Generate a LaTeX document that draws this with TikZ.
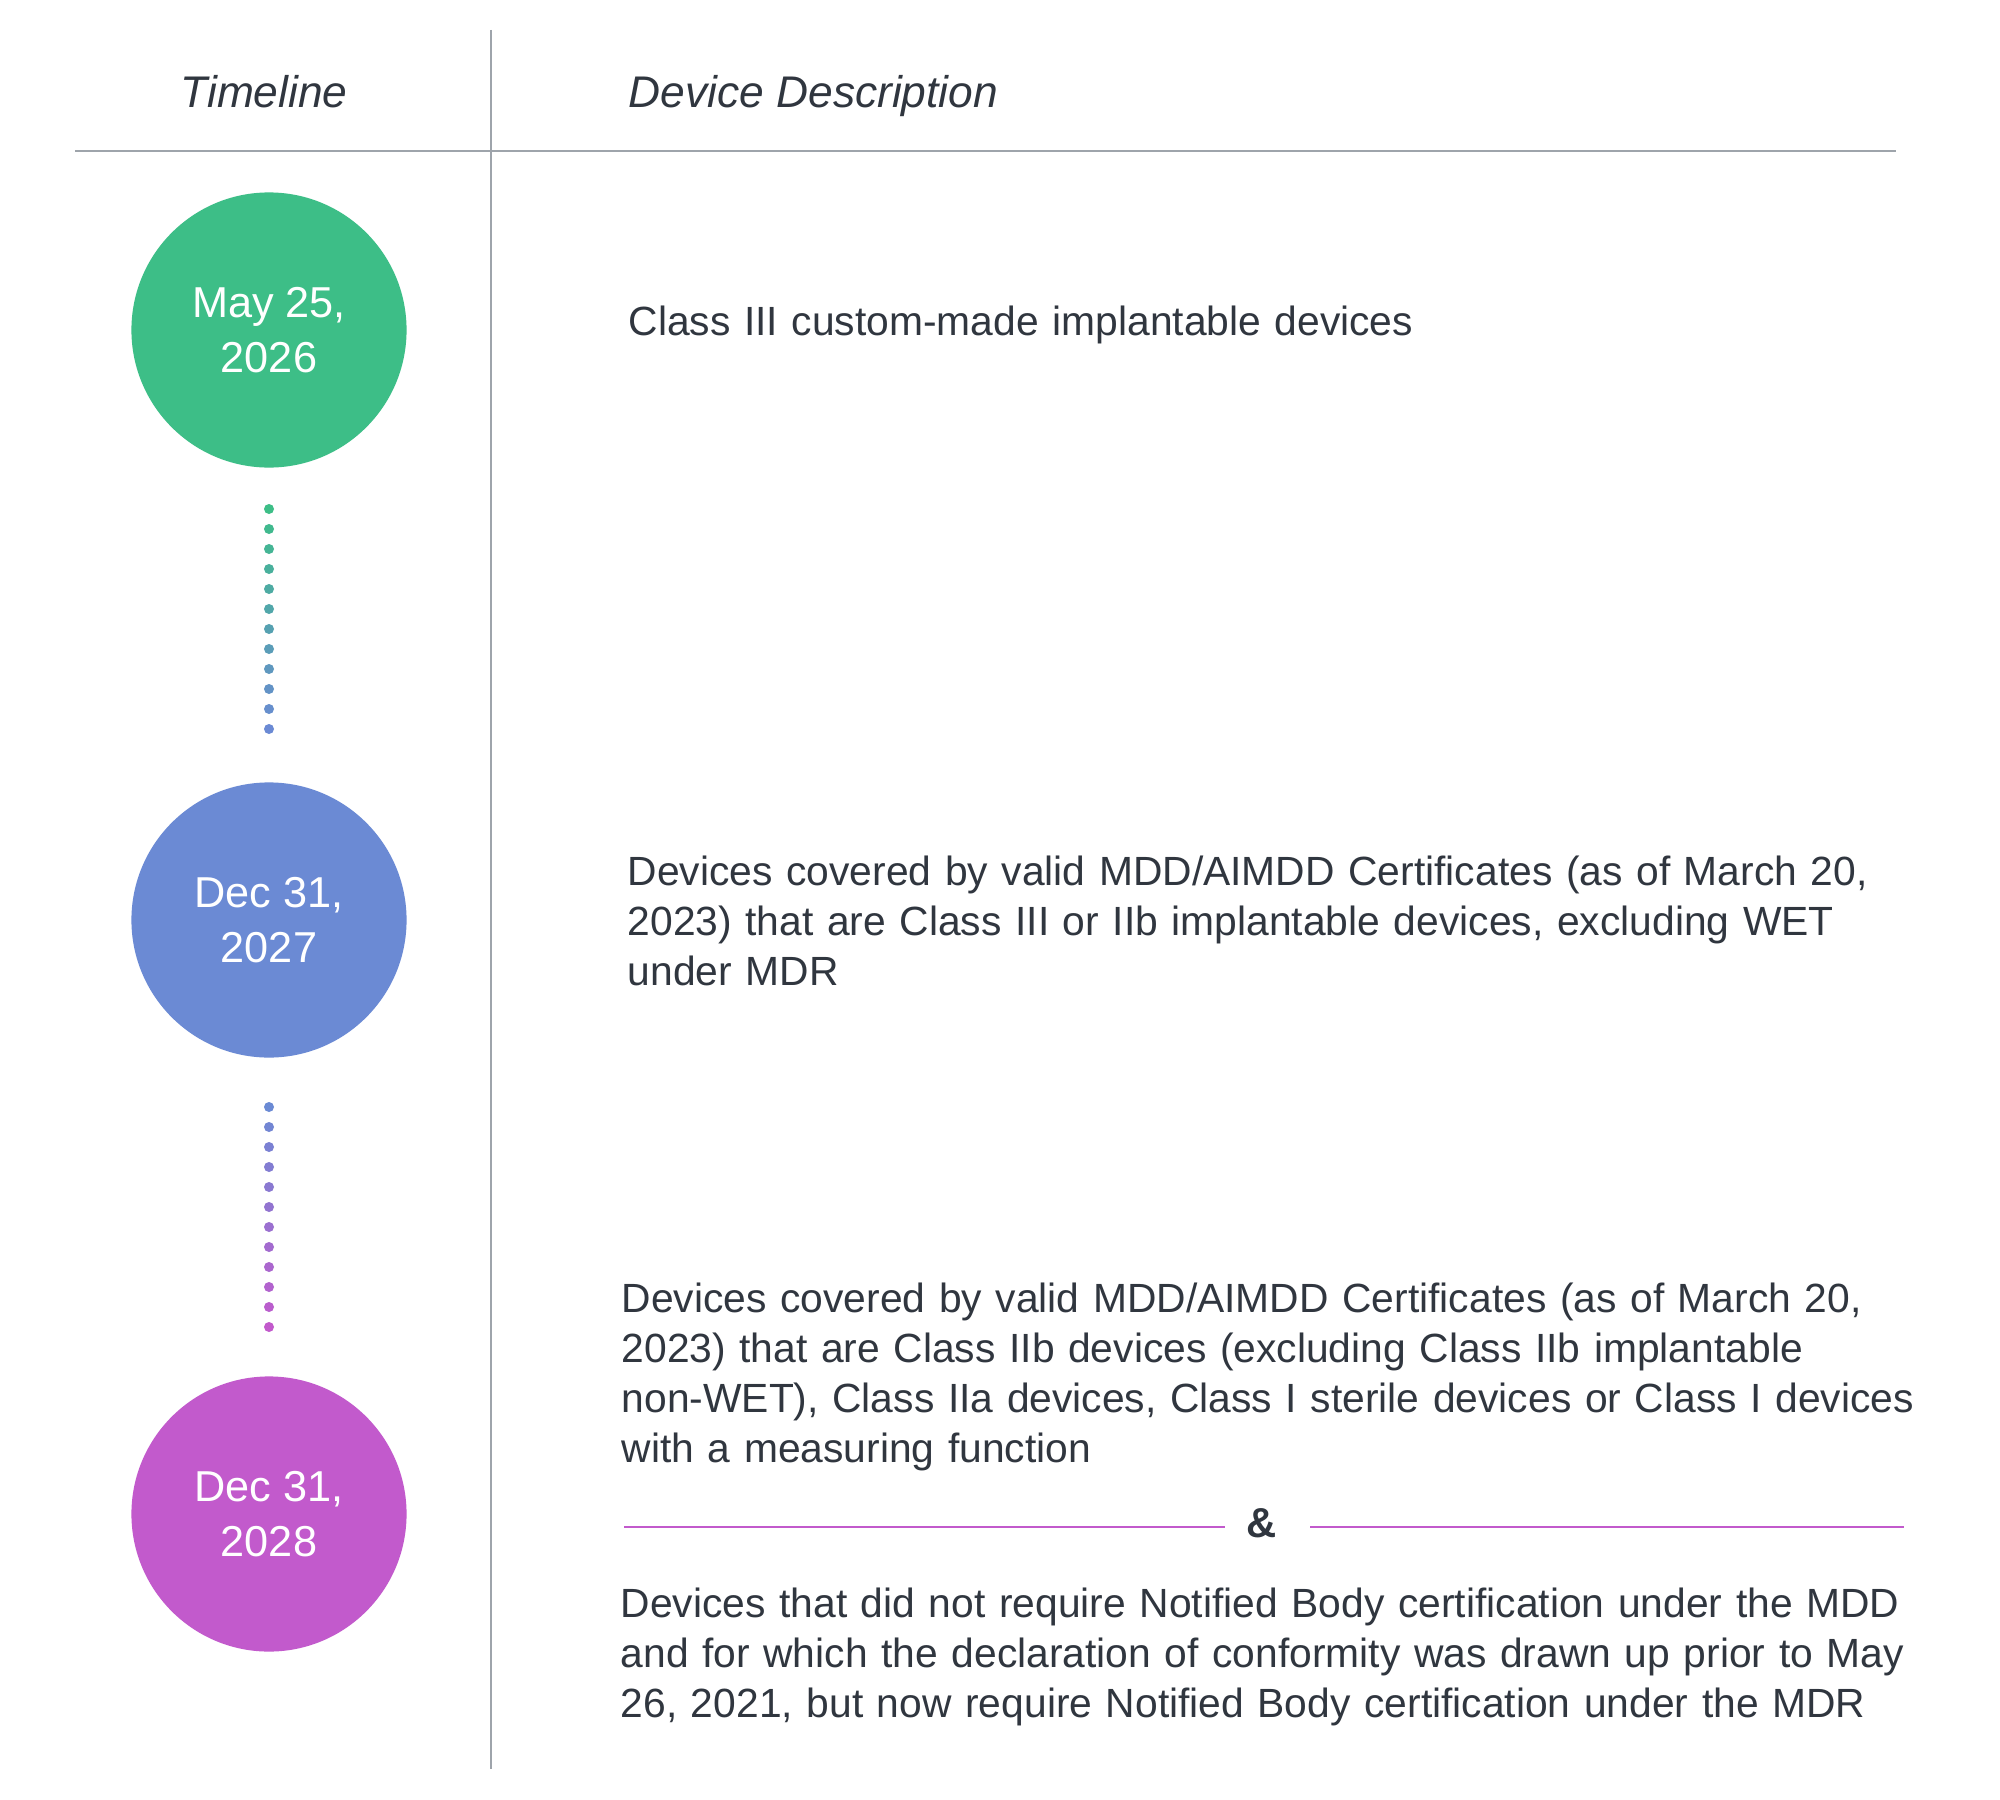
\documentclass[tikz,border=0pt]{standalone}
\usepackage{fontspec}
\setmainfont{Liberation Sans}
\definecolor{cgreen}{HTML}{3DBE87}
\definecolor{cblue}{HTML}{6B8AD4}
\definecolor{cmag}{HTML}{C25ACC}
\definecolor{txt}{HTML}{30363F}
\definecolor{gridgray}{HTML}{9EA4AB}
\begin{document}
\begin{tikzpicture}[x=0.01cm,y=-0.01cm,
  date/.style={circle,minimum size=2.75cm,inner sep=0pt,text=white,align=center,
    font=\fontsize{12.3}{15.8}\selectfont},
  desc/.style={anchor=base west,inner sep=0pt,text width=14cm,align=left,text=txt,
    font=\fontsize{11.6}{14.23}\selectfont},
  head/.style={inner sep=0pt,text=txt,font=\fontsize{12.6}{15}\selectfont\itshape},
  rulestyle/.style={draw=gridgray,line width=0.6pt},
  sepline/.style={draw=cmag,line width=0.6pt}]
\useasboundingbox[fill=white] (0,0) rectangle (2000,1800);

% grid
\coordinate (vtop) at (491,30);
\coordinate (vbot) at (491,1769);
\coordinate (hl) at (75,151);
\coordinate (hr) at (1896,151);
\draw[rulestyle] (vtop) -- (vbot);
\draw[rulestyle] (hl) -- (hr);

% header
\node[head,anchor=base] (htime) at (264,108) {Timeline};
\node[head,anchor=base west] (hdesc) at (628,108) {Device Description};

% dates
\node[date,fill=cgreen] (d1) at (269,330) {May 25,\\2026};
\node[date,fill=cblue] (d2) at (269,920) {Dec 31,\\2027};
\node[date,fill=cmag] (d3) at (269,1514) {Dec 31,\\2028};

% dotted connectors
\foreach \k in {0,...,11}{
  \pgfmathtruncatemacro\p{round(\k*100/11)}
  \fill[cblue!\p!cgreen] (269,509+20*\k) circle (0.05cm);
  \fill[cmag!\p!cblue] (269,1107+20*\k) circle (0.05cm);
}

% descriptions
\node[desc] (t1) at (628,335) {Class III custom-made implantable devices};
\node[desc] (t2) at (627,885) {Devices covered by valid MDD/AIMDD Certificates (as of March 20,\\
2023) that are Class III or IIb implantable devices, excluding WET\\
under MDR};
\node[desc] (t3) at (621,1312) {Devices covered by valid MDD/AIMDD Certificates (as of March 20,\\
2023) that are Class IIb devices (excluding Class IIb implantable\\
non-WET), Class IIa devices, Class I sterile devices or Class I devices\\
with a measuring function};
\node[inner sep=0pt,text=txt,font=\fontsize{11.9}{14.23}\selectfont\bfseries,anchor=base] (amp) at (1262,1537) {\&};
\coordinate (s1a) at (624,1527);
\coordinate (s1b) at (1225,1527);
\coordinate (s2a) at (1310,1527);
\coordinate (s2b) at (1904,1527);
\draw[sepline] (s1a) -- (s1b);
\draw[sepline] (s2a) -- (s2b);
\node[desc] (t4) at (620,1617) {Devices that did not require Notified Body certification under the MDD\\
and for which the declaration of conformity was drawn up prior to May\\
26, 2021, but now require Notified Body certification under the MDR};
\end{tikzpicture}
\end{document}
